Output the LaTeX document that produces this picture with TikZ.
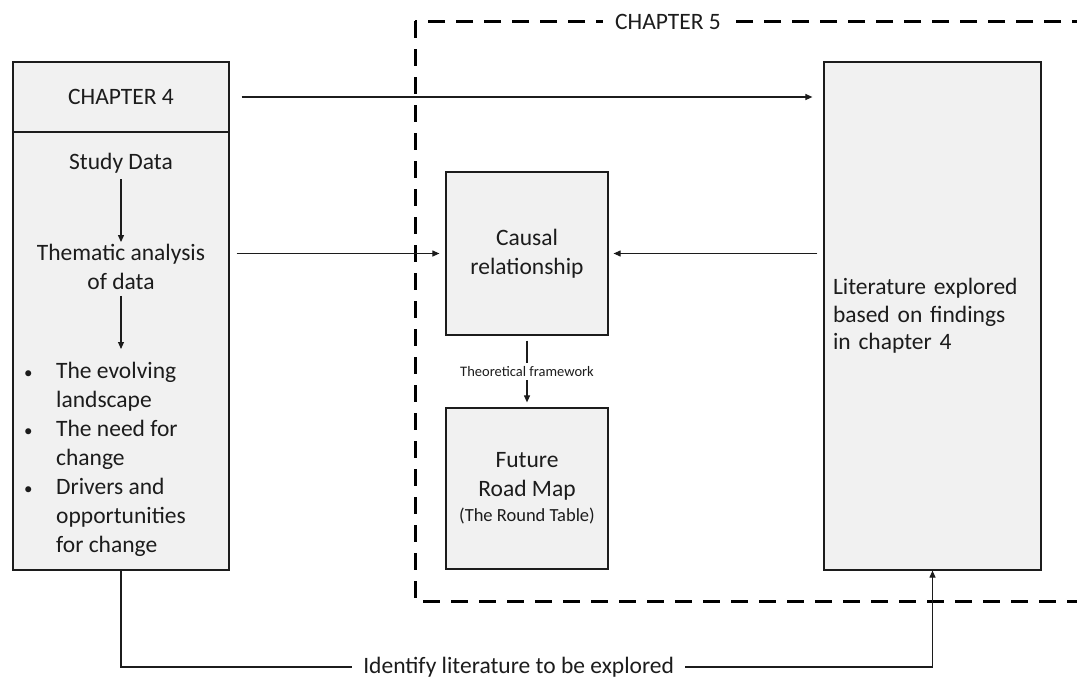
\documentclass[tikz,border=0pt]{standalone}
\usepackage{fontspec}
\setmainfont{Carlito}
\usetikzlibrary{arrows.meta}
\definecolor{boxfill}{RGB}{241,241,241}
\definecolor{ink}{RGB}{28,28,28}

\begin{document}
\begin{tikzpicture}[
    x=1pt, y=-1pt,
    box/.style   = {draw=ink, line width=1.2pt, fill=boxfill, inner sep=0pt},
    txt/.style   = {font=\fontsize{23.5}{29}\selectfont, text=ink, align=center, inner sep=0pt},
    small/.style = {font=\fontsize{14.5}{17}\selectfont, text=ink, fill=white, inner xsep=1pt, inner ysep=3pt},
    link/.style  = {draw=ink, line width=1.1pt, -{Triangle[length=7pt,width=6pt]}},
    frame/.style = {draw=black, line width=3pt, dash pattern=on 17pt off 11pt},
  ]

  % ---------- canvas ----------
  \useasboundingbox (0,0) rectangle (1077,680);
  \clip (0,0) rectangle (1077,680);
  \coordinate (base) at (0,667);

  % ---------- chapter 5 frame (runs off the right edge) ----------
  \draw[frame] (415,21) rectangle (1110,601);
  \node[txt, fill=white, inner xsep=12pt, inner ysep=4pt] (ch5) at (668,22) {CHAPTER 5};

  % ---------- chapter 4 column ----------
  \node[box, txt, minimum width=216pt, minimum height=70pt] (ch4) at (121,97) {CHAPTER 4};
  \node[box, minimum width=216pt, minimum height=438pt] (ch4body) at (121,351) {};

  \node[txt] (study)    at (121,163) {Study Data};
  \node[txt] (thematic) at (121,267) {Thematic analysis\\of data};
  \node[txt, anchor=north west, align=left] (themes) at (24,358)
    {\begin{tabular}{@{}p{32pt}@{}l@{}}
       {\fontsize{17}{17}\selectfont\textbullet} & The evolving\\
                   & landscape\\
       {\fontsize{17}{17}\selectfont\textbullet} & The need for\\
                   & change\\
       {\fontsize{17}{17}\selectfont\textbullet} & Drivers and\\
                   & opportunities\\
                   & for change
     \end{tabular}};

  \draw[link, shorten <=6pt, shorten >=2pt] (study.south) -- (thematic.north);
  \draw[link, shorten <=6pt, shorten >=9pt] (thematic.south) -- (thematic.south |- themes.north);

  % ---------- chapter 5 boxes ----------
  \node[box, txt, minimum width=162pt, minimum height=163pt] (causal) at (527,253.5)
    {Causal\\relationship};
  \node[box, txt, minimum width=162pt, minimum height=161pt] (roadmap) at (527,488.5)
    {Future\\Road Map\\[-4pt]{\fontsize{18.5}{22}\selectfont (The Round Table)}};
  \node[box, txt, align=left, text width=199pt, inner xsep=9pt, minimum height=508pt,
        font=\fontsize{23.5}{27.5}\selectfont] (lit) at (932.5,316)
    {Literature explored\\based on findings\\in chapter 4};

  % ---------- connectors ----------
  \draw[link, shorten <=12pt, shorten >=11pt] (ch4.east) -- (ch4.east -| lit.west);
  \draw[link, shorten <=7pt, shorten >=6pt] (causal.west -| ch4body.east) -- (causal.west);
  \draw[link, shorten <=6pt, shorten >=5pt] (causal.east -| lit.west) -- (causal.east);
  \draw[link, shorten <=5pt, shorten >=5pt] (causal.south)
        -- node[small] (frameworklbl) {Theoretical framework} (roadmap.north);

  \draw[link] (ch4body.south) -- (ch4body.south |- base)
        -- node[txt, pos=0.49, fill=white, inner xsep=11pt, inner ysep=2pt] (identify)
           {Identify literature to be explored} (lit.south |- base)
        -- (lit.south);

\end{tikzpicture}
\end{document}
